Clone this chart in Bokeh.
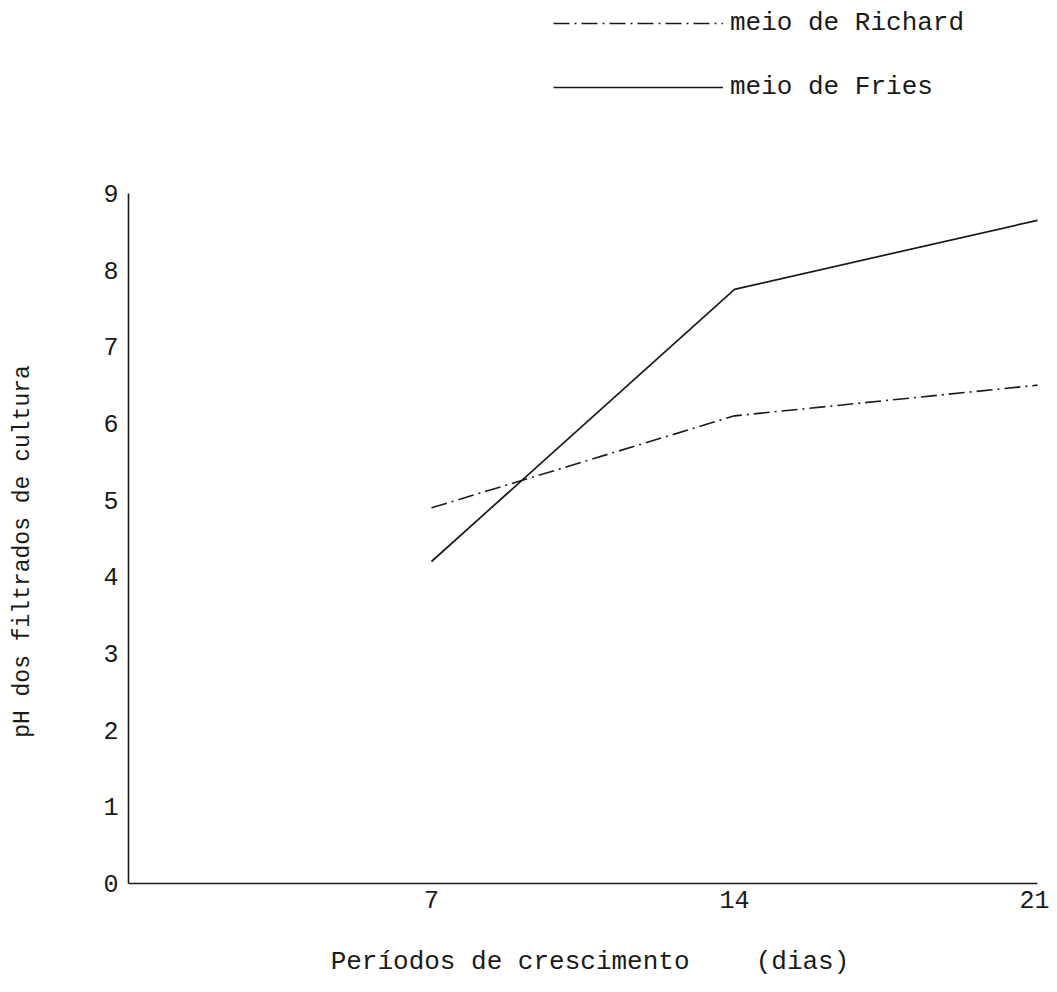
import math
from bokeh.plotting import figure
from bokeh.models import (Range1d, FixedTicker, Legend, LegendItem, Label,
                          LinearAxis)
from bokeh.embed import file_html
from bokeh.resources import INLINE

# ---- data ----
days = [7, 14, 21]
ph_richard = [4.9, 6.1, 6.5]
ph_fries = [4.2, 7.75, 8.65]
x_ticks = [7, 14, 21]
y_ticks = [0, 1, 2, 3, 4, 5, 6, 7, 8, 9]
series_names = ["meio de Richard", "meio de Fries"]
x_title_parts = ["Períodos de crescimento", "(dias)"]
y_title = "pH dos filtrados de cultura"

FONT = "Liberation Mono"
INK = "#1a1a1a"

W, H = 1049, 976
# frame fills the whole canvas; axes are pinned at the data origin
X0, XPX = 128.0, 909.0 / 21.0     # canvas x of data x=0, px per day
Y0, YPX = 883.0, 690.0 / 9.0      # canvas y of data y=0, px per pH unit

p = figure(width=W, height=H, output_backend="svg", toolbar_location=None,
           x_range=Range1d(-X0 / XPX, (W - X0) / XPX),
           y_range=Range1d(-(H - Y0) / YPX, Y0 / YPX),
           x_axis_location=None, y_axis_location=None,
           min_border=0, min_border_left=0, min_border_right=0,
           min_border_top=0, min_border_bottom=0)
p.outline_line_color = None
p.grid.visible = False
p.background_fill_color = "white"
p.border_fill_color = "white"

xaxis = LinearAxis(fixed_location=0, bounds=(0, 21), ticker=FixedTicker(ticks=x_ticks))
yaxis = LinearAxis(fixed_location=0, bounds=(0, 9), ticker=FixedTicker(ticks=y_ticks))
for ax in (xaxis, yaxis):
    ax.major_tick_line_color = None
    ax.minor_tick_line_color = None
    ax.major_tick_out = 0
    ax.major_tick_in = 0
    ax.axis_line_color = INK
    ax.axis_line_width = 1.6
    ax.major_label_text_font = FONT
    ax.major_label_text_font_size = "25px"
    ax.major_label_text_color = INK
xaxis.major_label_standoff = 7
yaxis.major_label_standoff = 10
p.add_layout(xaxis, "below")
p.add_layout(yaxis, "left")

r_rich = p.line(days, ph_richard, line_color=INK, line_width=1.6, line_dash="16 5 2 5")
r_fries = p.line(days, ph_fries, line_color=INK, line_width=1.7)

legend = Legend(items=[LegendItem(label=series_names[0], renderers=[r_rich]),
                       LegendItem(label=series_names[1], renderers=[r_fries])],
                location=(553, H - 102), orientation="vertical",
                glyph_width=170, glyph_height=30, label_height=30, spacing=34,
                label_standoff=7, padding=0, margin=0,
                border_line_color=None, background_fill_alpha=0,
                label_text_font=FONT, label_text_font_size="26px",
                label_text_color=INK)
p.add_layout(legend, "center")

for xt, txt in zip([4.67, 14.49], x_title_parts):
    p.add_layout(Label(x=xt, y=-1.03, text=txt, text_align="left",
                       text_baseline="middle", text_font=FONT,
                       text_font_size="26px", text_color=INK))
p.add_layout(Label(x=-2.43, y=4.33, text=y_title, angle=math.pi / 2,
                   text_align="center", text_baseline="middle", text_font=FONT,
                   text_font_size="23px", text_color=INK))

open("out.html", "w").write(file_html(p, INLINE))
